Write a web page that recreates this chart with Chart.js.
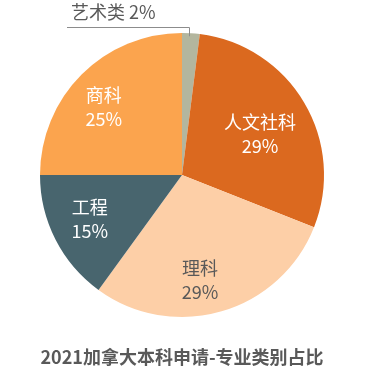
<!DOCTYPE html>
<html>
<head>
<meta charset="utf-8">
<script src="https://cdn.jsdelivr.net/npm/chart.js@4"></script>
<style>
  html, body { margin: 0; padding: 0; background: #fff; }
  #wrap { width: 370px; height: 374px; }
</style>
</head>
<body>
<div id="wrap"><canvas id="pieChart"></canvas></div>
<script>
const categories = ["艺术类", "人文社科", "理科", "工程", "商科"];
const shares = [2, 29, 29, 15, 25];
const sliceColors = ["#B3B69E", "#DB691F", "#FDCFA7", "#48656E", "#FBA44E"];
const labelColors = ["#595959", "#ffffff", "#595959", "#ffffff", "#ffffff"];
// label placement per slice: [fraction of radius, angle nudge in degrees]
const labelPlace = [null, [0.62, 3], [0.75, 6.5], [0.72, 1.5], [0.73, -4]];
const chartTitle = "2021加拿大本科申请-专业类别占比";

const FONT = "'Noto Sans CJK SC', 'Noto Sans', sans-serif";

const pieLabels = {
  id: "pieLabels",
  afterDraw(chart) {
    const ctx = chart.ctx;
    const arcs = chart.getDatasetMeta(0).data;
    ctx.save();
    ctx.font = `18px ${FONT}`;
    ctx.textAlign = "center";
    ctx.textBaseline = "middle";

    arcs.forEach((arc, i) => {
      const { x, y, startAngle, endAngle, outerRadius } = arc.getProps(
        ["x", "y", "startAngle", "endAngle", "outerRadius"], true);
      const mid = (startAngle + endAngle) / 2;
      if (!labelPlace[i]) {
        // small slice: leader line out to the left
        const px = x + Math.cos(mid) * (outerRadius - 3);
        const py = y + Math.sin(mid) * (outerRadius - 3);
        const lineY = y - outerRadius - 6;
        ctx.strokeStyle = "#8C8C8C";
        ctx.lineWidth = 1;
        ctx.beginPath();
        ctx.moveTo(Math.round(px - 2) + 0.5, py);
        ctx.lineTo(Math.round(px - 2) + 0.5, lineY + 0.5);
        ctx.lineTo(67, lineY + 0.5);
        ctx.stroke();
        ctx.fillStyle = labelColors[i];
        ctx.textAlign = "left";
        ctx.fillText(`${categories[i]} ${shares[i]}%`, 71, lineY - 15);
        ctx.textAlign = "center";
        return;
      }
      const [frac, nudge] = labelPlace[i];
      const a = mid + nudge * Math.PI / 180;
      const lx = x + Math.cos(a) * outerRadius * frac;
      const ly = y + Math.sin(a) * outerRadius * frac;
      ctx.fillStyle = labelColors[i];
      ctx.fillText(categories[i], lx, ly - 12);
      ctx.fillText(`${shares[i]}%`, lx, ly + 12);
    });

    ctx.font = `bold 18px ${FONT}`;
    ctx.fillStyle = "#595959";
    ctx.fillText(chartTitle, 182, 357);
    ctx.restore();
  }
};

new Chart(document.getElementById("pieChart"), {
  type: "pie",
  data: {
    labels: categories,
    datasets: [{
      data: shares,
      backgroundColor: sliceColors,
      borderWidth: 0
    }]
  },
  options: {
    responsive: true,
    maintainAspectRatio: false,
    animation: false,
    layout: { padding: { left: 40, right: 46, top: 33, bottom: 57 } },
    plugins: {
      legend: { display: false },
      tooltip: { enabled: false },
      title: { display: false }
    }
  },
  plugins: [pieLabels]
});
</script>
</body>
</html>
